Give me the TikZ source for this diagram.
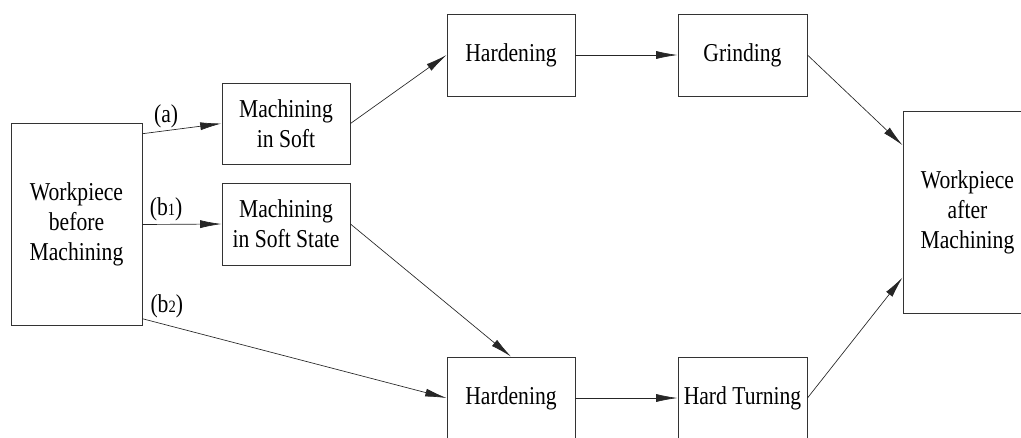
\documentclass[tikz,border=0pt]{standalone}
\usepackage{fontspec}
\setmainfont{Liberation Serif}
\newfontfamily\tallserif[FakeStretch=0.84]{Liberation Serif}
\usepackage{tikz}
\usetikzlibrary{arrows.meta}
\tikzset{
    proc-box/.style = {draw=black!80, line width=0.7pt, rectangle, inner sep=0pt, align=center, minimum width=96pt, minimum height=61.5pt, font=\tallserif\fontsize{19.3}{22.5}\selectfont},
    part-box/.style = {proc-box, minimum height=151.5pt},
    flow/.style = {draw=black!85, line width=0.5pt, -{Latex[length=16pt, width=6pt]}},
    path-label/.style = {font=\tallserif\fontsize{19.3}{20}\selectfont, inner sep=1pt},
}

\begin{document}
\begin{tikzpicture}[x=0.75pt, y=-0.75pt]
\useasboundingbox (0,0) rectangle (1021,437);
% start and end
\node [part-box, minimum width=98.25pt] (wb) at (76.5,224.5) {Workpiece\\before\\Machining};
\node [part-box, minimum width=96.75pt] (wa) at (967.5,212.5) {Workpiece\\after\\Machining};
% soft machining
\node [proc-box, minimum height=60.75pt] (ms) at (286,123.5) {Machining\\in Soft};
\node [proc-box] (mss) at (286,224) {Machining\\in Soft State};
% upper route
\node [proc-box] (h1) at (511,55) {Hardening};
\node [proc-box, minimum width=96.75pt] (gr) at (742.5,55) {Grinding};
% lower route
\node [proc-box] (h2) at (511,398) {Hardening};
\node [proc-box, minimum width=96.75pt] (ht) at (742.5,398) {Hard Turning};

\draw [flow] (wb.54.7) -- node[path-label, pos=0.3, above=1pt] {(a)} (ms.west);
\draw [flow] (wb.east) -- node[path-label, pos=0.3, above=1pt] {(b{\fontsize{13}{13}\selectfont 1})} (mss.west);
\draw [flow] (wb.-55.3) -- node[path-label, pos=0.08, above=4pt] {(b{\fontsize{13}{13}\selectfont 2})} (h2.west);
\draw [flow] (ms.east) -- (h1.west);
\draw [flow] (mss.east) -- (h2.north);
\draw [flow] (h1.east) -- (gr.west);
\draw [flow] (h2.east) -- (ht.west);
\draw [flow] (gr.east) -- (wa.134.6);
\draw [flow] (ht.east) -- (wa.225.4);
\end{tikzpicture}
\end{document}
